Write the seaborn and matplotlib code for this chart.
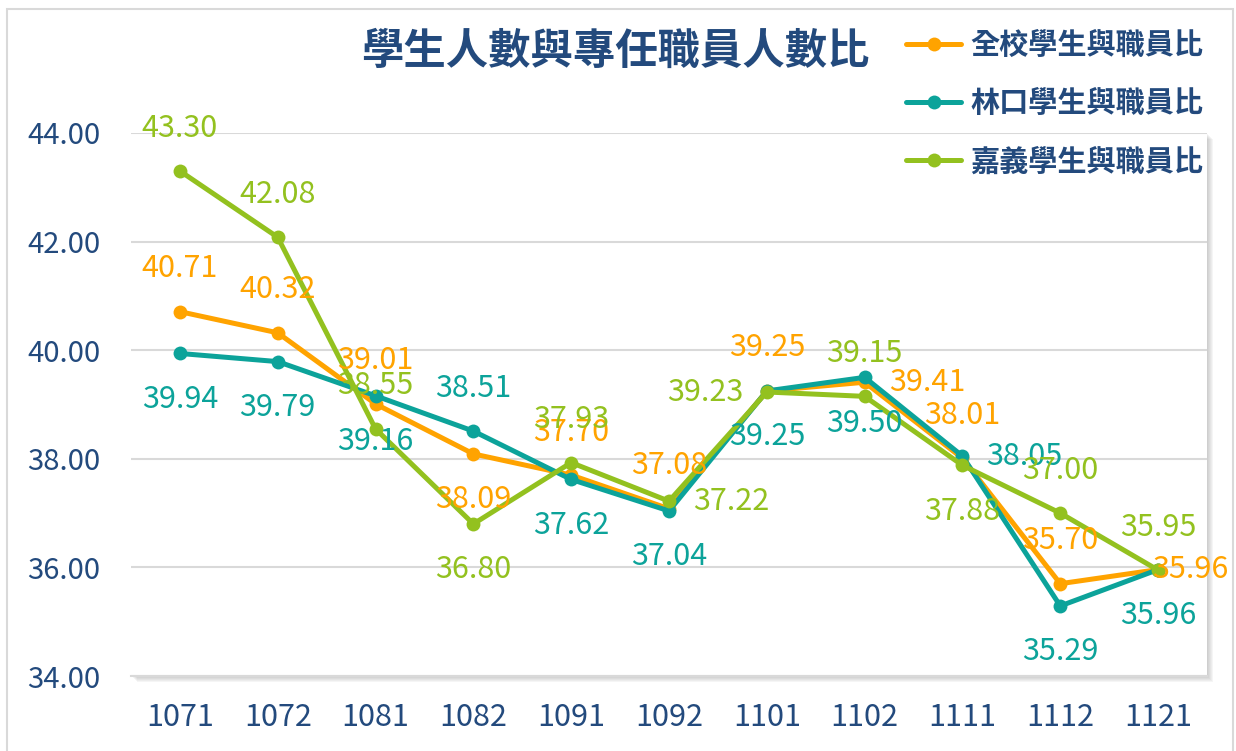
import numpy as np
import pandas as pd
import matplotlib
matplotlib.use("Agg")
import matplotlib.pyplot as plt
from matplotlib.patches import Rectangle
from matplotlib.lines import Line2D
import seaborn as sns

# data
terms = ["1071", "1072", "1081", "1082", "1091", "1092", "1101", "1102", "1111", "1112", "1121"]
all_campus = [40.71, 40.32, 39.01, 38.09, 37.70, 37.08, 39.25, 39.41, 38.01, 35.70, 35.96]
linkou = [39.94, 39.79, 39.16, 38.51, 37.62, 37.04, 39.25, 39.50, 38.05, 35.29, 35.96]
chiayi = [43.30, 42.08, 38.55, 36.80, 37.93, 37.22, 39.23, 39.15, 37.88, 37.00, 35.95]
series_names = ["全校學生與職員比", "林口學生與職員比", "嘉義學生與職員比"]

# where each data label sits relative to its point
label_pos = {
    "全校學生與職員比": ["up", "up", "up", "down", "up", "up", "up", "right", "up", "up", "edge"],
    "林口學生與職員比": ["down", "down", "down", "up", "down", "down", "down", "down", "right", "down", "down"],
    "嘉義學生與職員比": ["up", "up", "up", "down", "up", "right", "left", "up", "down", "up", "up"],
}

colors = ["#FFA300", "#0CA39A", "#93C11F"]
navy = "#234A7D"

df = pd.DataFrame({
    "term": terms * 3,
    "ratio": all_campus + linkou + chiayi,
    "series": np.repeat(series_names, len(terms)),
})

sns.set_theme(style="white")
plt.rcParams["font.family"] = ["Noto Sans CJK TC", "DejaVu Sans"]

fig = plt.figure(figsize=(12.36, 7.51), dpi=100)
W, H = 1236, 751
ax = fig.add_axes([131 / W, 1 - 676 / H, (1207 - 131) / W, (676 - 133) / H])

# outer chart border
fig.patches.append(Rectangle((7 / W, -0.05), (1233 - 7) / W, 1 - 9 / H + 0.05,
                             transform=fig.transFigure, fill=False,
                             edgecolor="#D9D9D9", lw=1.5, zorder=-5))
# soft drop shadow behind the plot area
x0, y0 = 131 / W, 1 - 676 / H
w0, h0 = (1207 - 131) / W, (676 - 133) / H
for i in range(1, 7):
    fig.patches.append(Rectangle((x0 + i / W, y0 - i / H), w0, h0,
                                 transform=fig.transFigure, facecolor="#7F7F7F",
                                 edgecolor="none", alpha=0.07, zorder=-2))

sns.lineplot(data=df, x="term", y="ratio", hue="series", palette=colors,
             hue_order=series_names, sort=False, marker="o", markersize=10,
             markeredgewidth=0, linewidth=3.6, legend=False, ax=ax)

ax.set_facecolor("white")
ax.set_xlim(-0.5, len(terms) - 0.5)
ax.set_ylim(34, 44)
ax.set_yticks(np.arange(34, 44.1, 2))
ax.yaxis.set_major_formatter(matplotlib.ticker.FormatStrFormatter("%.2f"))
ax.grid(axis="y", color="#D9D9D9", lw=1.5)
ax.grid(axis="x", visible=False)
for s in ["top", "left", "right"]:
    ax.spines[s].set_visible(False)
ax.spines["bottom"].set_color("#D9D9D9")
ax.spines["bottom"].set_linewidth(1.5)
ax.tick_params(axis="y", length=0, pad=22, labelsize=21, labelcolor=navy)
ax.tick_params(axis="x", length=0, pad=19, labelsize=22, labelcolor=navy)
ax.set_xlabel("")
ax.set_ylabel("")

# data labels
offsets = {
    "up": ((0, 43), "center"),
    "down": ((0, -46), "center"),
    "right": ((24, 0), "left"),
    "left": ((-23, 0), "right"),
    "edge": ((32, 0), "center"),
}
for name, vals, col in zip(series_names, [all_campus, linkou, chiayi], colors):
    for i, v in enumerate(vals):
        off, ha = offsets[label_pos[name][i]]
        ax.annotate(f"{v:.2f}", (i, v), xytext=off, textcoords="offset pixels",
                    ha=ha, va="center", fontsize=22, color=col, zorder=10,
                    annotation_clip=False)

fig.text(615 / W, 1 - 52 / H, "學生人數與專任職員人數比", ha="center", va="center",
         fontsize=30.5, fontweight="bold", color=navy)

handles = [Line2D([], [], color=c, lw=3.6, marker="o", markersize=10, markeredgewidth=0)
           for c in colors]
leg = fig.legend(handles, series_names, loc="upper left",
                 bbox_to_anchor=(906 / W, 1 - 30 / H), frameon=False,
                 fontsize=21, handlelength=1.9, handletextpad=0.3,
                 labelspacing=0.97, borderpad=0, borderaxespad=0)
for t in leg.get_texts():
    t.set_color(navy)
    t.set_fontweight("bold")

fig.savefig("out.png", dpi=100)
